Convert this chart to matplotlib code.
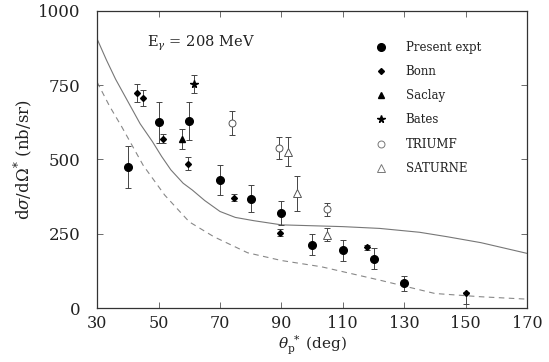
import matplotlib
matplotlib.use("Agg")
import matplotlib.pyplot as plt
from matplotlib.lines import Line2D
import numpy as np

plt.rcParams['font.family'] = ['DejaVu Serif']
plt.rcParams['mathtext.fontset'] = 'dejavuserif'

# Present experiment
pres_x = [40, 50, 60, 70, 80, 90, 100, 110, 120, 130]
pres_y = [475, 625, 630, 430, 368, 320, 213, 195, 166, 83]
pres_e = [70, 70, 65, 50, 45, 40, 35, 35, 35, 25]
# Bonn
bonn_x = [43, 45, 51.5, 59.5, 74.5, 89.6, 117.8, 150.2]
bonn_y = [725, 708, 569, 485, 371, 254, 204, 49]
bonn_elo = [30, 27, 15, 22, 12, 12, 8, 35]
bonn_ehi = [30, 27, 15, 22, 12, 12, 8, 5]
# Saclay
sac_x = [57.5]
sac_y = [568]
sac_e = [33]
# Bates
bat_x = [61.4]
bat_y = [753]
bat_e = [30]
# TRIUMF
tri_x = [74, 89.2, 104.7]
tri_y = [623, 539, 333]
tri_e = [40, 37, 22]
# SATURNE
sat_x = [92, 95.1, 104.8]
sat_y = [526, 386, 247]
sat_e = [48, 58, 22]

# Theory curves
solid_x = [30, 33, 36, 40, 44, 48, 51, 54, 58, 61, 65, 70, 75, 81, 90, 100, 110, 122, 135, 144, 155, 170]
solid_y = [905, 835, 770, 695, 620, 560, 510, 465, 420, 397, 362, 325, 305, 294, 280, 277, 274, 268, 255, 240, 220, 184]
dash_x = [30, 34, 38, 45, 52, 60, 68, 79, 90, 103, 122, 140, 155, 170]
dash_y = [760, 680, 610, 480, 380, 290, 240, 186, 160, 139, 94, 49, 38, 30]

fig = plt.figure(figsize=(5.49, 3.62), dpi=100)
ax = fig.add_axes([0.177, 0.149, 0.783, 0.821])

ax.plot(solid_x, solid_y, color='#777777', lw=0.8)
ax.plot(dash_x, dash_y, color='#888888', lw=0.8, dashes=(5, 4))

eb = dict(ecolor='#444444', elinewidth=0.7, capsize=2.5, capthick=0.7, linestyle='none')
ax.errorbar(pres_x, pres_y, yerr=pres_e, fmt='o', color='black', ms=5.5, **eb)
ax.errorbar(bonn_x, bonn_y, yerr=[bonn_elo, bonn_ehi], fmt='D', color='black', ms=3, **eb)
ax.errorbar(sac_x, sac_y, yerr=sac_e, fmt='^', color='black', ms=5, **eb)
ax.errorbar(bat_x, bat_y, yerr=bat_e, fmt='*', color='black', ms=5.5, **eb)
ax.errorbar(tri_x, tri_y, yerr=tri_e, fmt='o', mfc='white', mec='#555555', mew=0.7, ms=5, **eb)
ax.errorbar(sat_x, sat_y, yerr=sat_e, fmt='^', mfc='white', mec='#555555', mew=0.7, ms=5.5, **eb)

ax.set_xlim(30, 170)
ax.set_ylim(0, 1000)
ax.set_xticks(np.arange(30, 171, 20))
ax.set_yticks([0, 250, 500, 750, 1000])
ax.tick_params(direction='in', top=True, right=True, length=4, width=0.6, colors='#555555',
               labelcolor='#222222', labelsize=12)
ax.tick_params(axis='y', pad=12)
ax.tick_params(axis='x', pad=5, labelsize=11.5)
for s in ax.spines.values():
    s.set_color('#333333')
    s.set_linewidth(0.9)

ax.set_xlabel(r'$\theta_{\rm p}^{\;*}$ (deg)', fontsize=11, labelpad=1, color='#222222')
ax.set_ylabel(r'd$\sigma$/d$\Omega^{*}$ (nb/sr)', fontsize=12, labelpad=2, color='#222222')

ax.text(46.3, 889, r'E$_{\gamma}$ = 208 MeV', fontsize=10.5, va='center', ha='left', color='#222222')

handles = [
    Line2D([], [], ls='none', marker='o', color='black', ms=5.5),
    Line2D([], [], ls='none', marker='D', color='black', ms=3),
    Line2D([], [], ls='none', marker='^', color='black', ms=5),
    Line2D([], [], ls='none', marker='*', color='black', ms=5.5),
    Line2D([], [], ls='none', marker='o', mfc='white', mec='#777777', mew=0.7, ms=5),
    Line2D([], [], ls='none', marker='^', mfc='white', mec='#777777', mew=0.7, ms=5.5),
]
labels = ['Present expt', 'Bonn', 'Saclay', 'Bates', 'TRIUMF', 'SATURNE']
leg = ax.legend(handles, labels, loc='upper left', bbox_to_anchor=(0.619, 0.935), frameon=False,
                fontsize=8.5, handlelength=1.2, handletextpad=1.5, labelspacing=0.95, numpoints=1)
for t in leg.get_texts():
    t.set_color('#222222')

fig.savefig('out.png', dpi=100)
